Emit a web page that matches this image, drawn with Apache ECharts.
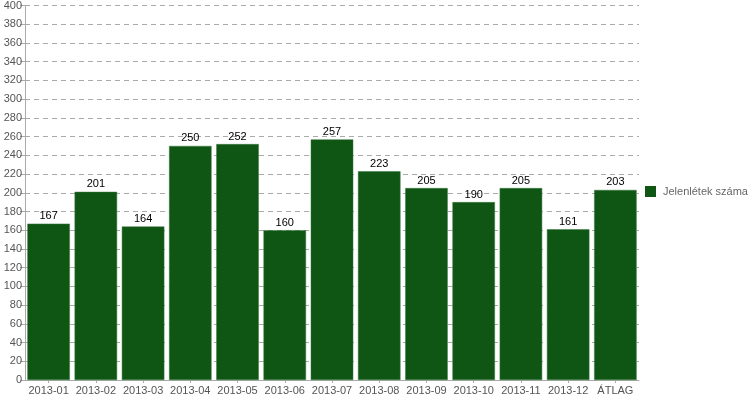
<!DOCTYPE html>
<html><head><meta charset="utf-8">
<script src="https://cdn.jsdelivr.net/npm/echarts@6/dist/echarts.min.js"></script>
<style>html,body{margin:0;padding:0;background:#fff}#c{width:750px;height:400px}</style>
</head><body><div id="c"></div>
<script>
var categories = ['2013-01','2013-02','2013-03','2013-04','2013-05','2013-06','2013-07','2013-08','2013-09','2013-10','2013-11','2013-12','ÁTLAG'];
var values = [167,201,164,250,252,160,257,223,205,190,205,161,203];
var seriesName = 'Jelenlétek száma';
var chart = echarts.init(document.getElementById('c'), null, {renderer:'canvas'});
chart.setOption({
  animation:false,
  textStyle:{fontFamily:'Liberation Sans, Arial, sans-serif'},
  grid:{left:25,right:111,top:4,bottom:20,containLabel:false},
  legend:{orient:'vertical',left:645,top:186,padding:0,itemWidth:11,itemHeight:11,itemGap:7,icon:'rect',
    itemStyle:{borderWidth:0,color:'#0f5514'},
    textStyle:{color:'#666',fontSize:11,padding:[0,0,0,2],fontFamily:'Liberation Sans, Arial, sans-serif'},data:[seriesName]},
  xAxis:{type:'category',data:categories,
    axisLine:{lineStyle:{color:'#aaa'}},axisTick:{show:true,alignWithLabel:true,lineStyle:{color:'#aaa'},length:3},
    axisLabel:{color:'#555',fontSize:11,margin:5,interval:0}},
  yAxis:{type:'value',min:0,max:400,interval:20,
    axisLine:{show:true,lineStyle:{color:'#aaa'}},axisTick:{show:true,length:5,lineStyle:{color:'#aaa'}},
    axisLabel:{color:'#555',fontSize:11,margin:3},
    splitLine:{show:true,lineStyle:{color:'#aaa',type:[5,4]}}},
  series:[{name:seriesName,type:'bar',data:values,barCategoryGap:'10%',
    itemStyle:{color:'#0f5514',borderColor:'#3d7a41',borderWidth:0.5},
    label:{show:true,position:'top',color:'#000',fontSize:11,distance:2}}]
});
</script></body></html>
